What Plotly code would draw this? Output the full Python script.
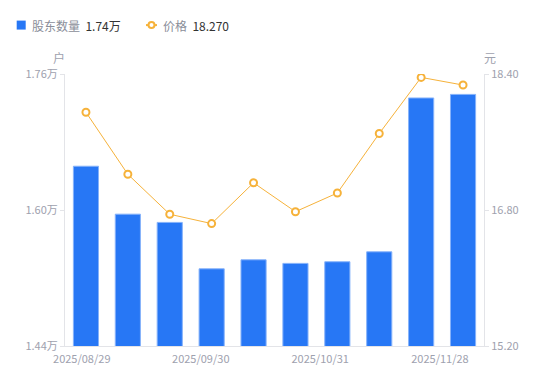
import plotly.graph_objects as go

# ---- data ----
x_index = list(range(10))
holders = [16515, 15951, 15854, 15308, 15414, 15372, 15391, 15508, 17318, 17360]
prices = [17.95, 17.22, 16.75, 16.64, 17.12, 16.78, 17.00, 17.70, 18.36, 18.27]
tick_labels = ["2025/08/29", "2025/09/30", "2025/10/31", "2025/11/28"]
tick_pos = [-0.10, 2.74, 5.59, 8.45]
left_ticks = [14400, 16000, 17600]
right_ticks = [15.20, 16.80, 18.40]
series_names = ["股东数量", "价格"]
unit_left = "户"
unit_right = "元"

BLUE = "#2777F5"
ORANGE = "#F6B23A"
GRAY_TXT = "#9EA1AE"
FONT = "Noto Sans CJK SC, Noto Sans, sans-serif"

W, H = 550, 381
L, R, T, B = 65, 66, 73.5, 35
PW, PH = W - L - R, H - T - B


def px(xp):
    return (xp - L) / PW


def py(yp):
    return (H - B - yp) / PH


fig = go.Figure()
fig.add_trace(go.Bar(
    x=x_index, y=holders, width=0.6,
    marker=dict(color=BLUE, line=dict(color="#86B2FA", width=1)),
    yaxis="y", showlegend=False, hoverinfo="skip"))
fig.add_trace(go.Scatter(
    x=x_index, y=prices, mode="lines+markers", yaxis="y2",
    line=dict(color=ORANGE, width=1),
    marker=dict(symbol="circle", size=7, color="white",
                line=dict(color=ORANGE, width=2)),
    showlegend=False, hoverinfo="skip"))

fig.update_layout(
    width=W, height=H,
    margin=dict(l=L, r=R, t=T, b=B, autoexpand=False),
    paper_bgcolor="white", plot_bgcolor="white",
    font=dict(family=FONT, size=11, color=GRAY_TXT),
    bargap=0.4,
    xaxis=dict(range=[-0.5, 9.5], tickmode="array", tickvals=tick_pos,
               ticktext=tick_labels, showgrid=False, zeroline=False,
               showline=True, linecolor="#E3E4E8", linewidth=1,
               ticks="", ticklabelstandoff=3,
               tickfont=dict(size=11, color=GRAY_TXT)),
    yaxis=dict(range=[left_ticks[0], left_ticks[-1]], tickmode="array",
               tickvals=left_ticks,
               ticktext=[f"{v/10000:.2f}万" for v in left_ticks],
               showgrid=False, zeroline=False, showline=True,
               linecolor="#E3E4E8", linewidth=1, ticks="outside",
               ticklen=4, tickcolor="#E3E4E8",
               tickfont=dict(size=11, color=GRAY_TXT)),
    yaxis2=dict(range=[right_ticks[0], right_ticks[-1]], overlaying="y",
                side="right", tickmode="array", tickvals=right_ticks,
                ticktext=[f"{v:.2f}" for v in right_ticks],
                showgrid=False, zeroline=False, showline=True,
                linecolor="#E3E4E8", linewidth=1, ticks="outside",
                ticklen=4, tickcolor="#E3E4E8",
                tickfont=dict(size=11, color=GRAY_TXT)),
)

# unit labels
for xp, txt in [(58.5, unit_left), (490, unit_right)]:
    fig.add_annotation(x=px(xp), y=py(57), xref="paper", yref="paper",
                       xanchor="center", yanchor="middle",
                       text=txt, showarrow=False,
                       font=dict(size=12, color=GRAY_TXT))

# custom legend
ly = 24.5
fig.add_shape(type="rect", xref="paper", yref="paper",
              x0=px(16.7), x1=px(25.7), y0=py(ly - 4.5), y1=py(ly + 4.5),
              fillcolor=BLUE, line=dict(width=0), layer="above")
fig.add_annotation(x=px(30), y=py(ly), xref="paper", yref="paper",
                   xanchor="left", yanchor="middle", showarrow=False,
                   text=f"{series_names[0]}  <span style='color:#333333'>{holders[-1]/10000:.2f}万</span>",
                   font=dict(size=12, color="#8A8E99"))
fig.add_shape(type="line", xref="paper", yref="paper",
              x0=px(146), x1=px(157), y0=py(ly), y1=py(ly),
              line=dict(color=ORANGE, width=2), layer="above")
fig.add_shape(type="circle", xref="paper", yref="paper",
              x0=px(148.5), x1=px(154.5), y0=py(ly - 3), y1=py(ly + 3),
              fillcolor="white", line=dict(color=ORANGE, width=2), layer="above")
fig.add_annotation(x=px(160.5), y=py(ly), xref="paper", yref="paper",
                   xanchor="left", yanchor="middle", showarrow=False,
                   text=f"{series_names[1]}  <span style='color:#333333'>{prices[-1]:.3f}</span>",
                   font=dict(size=12, color="#8A8E99"))

fig.write_html("out.html", config={"displayModeBar": False},
               post_script="document.body.style.margin='0';")
